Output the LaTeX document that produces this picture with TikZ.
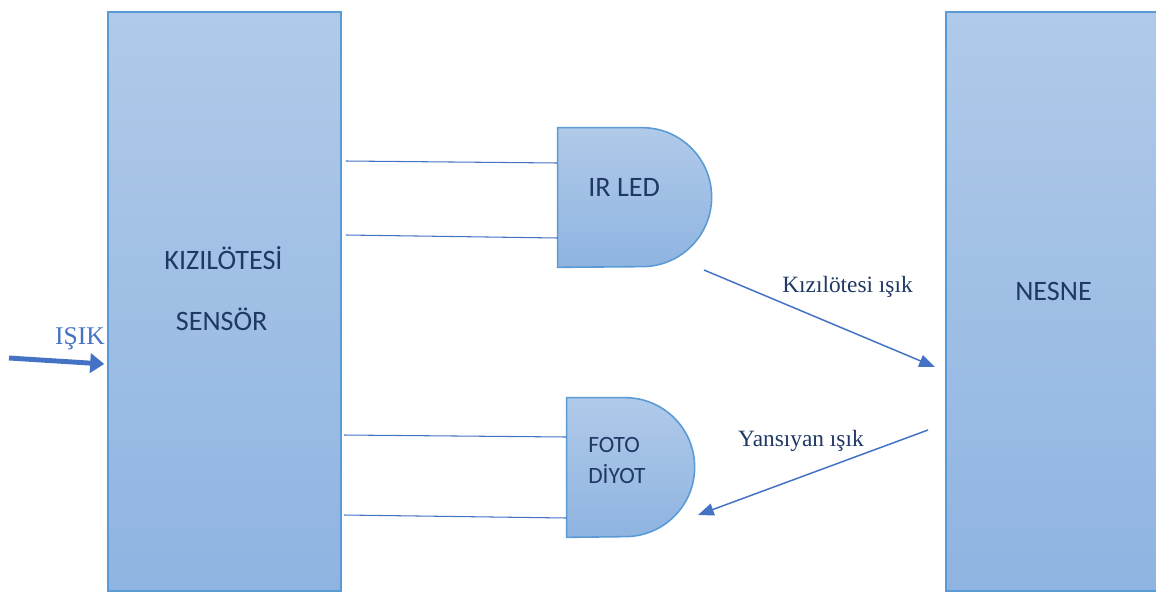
\documentclass[tikz,border=0pt]{standalone}
\usepackage{fontspec}
\setmainfont{Liberation Serif}
\newfontfamily\calibri{Carlito}
\usetikzlibrary{arrows.meta}

\definecolor{boxtop}{HTML}{B0CAE9}
\definecolor{boxbot}{HTML}{8FB4E1}
\definecolor{boxline}{HTML}{5B9BD5}
\definecolor{wireblue}{HTML}{4472C4}
\definecolor{textnavy}{HTML}{1F3864}

\begin{document}
\begin{tikzpicture}[
        % --- styles ---
        x=0.02cm, y=-0.02cm,
        block/.style={rectangle, draw=boxline, line width=0.9pt, top color=boxtop, bottom color=boxbot, inner sep=0pt, minimum height=11.58cm},
        gatebox/.style={rectangle, inner sep=0pt, minimum height=2.78cm},   % invisible frame of a gate
        gateshape/.style={draw=boxline, line width=0.9pt, top color=boxtop, bottom color=boxbot},
        lbl/.style={text=textnavy, font=\calibri\fontsize{16}{19}\selectfont, inner sep=0pt},
        small/.style={text=textnavy, font=\calibri\fontsize{13.3}{16}\selectfont, inner sep=0pt},
        note/.style={text=textnavy, font=\fontsize{13.3}{16}\selectfont, inner sep=0pt},
        wire/.style={draw=wireblue, line width=0.6pt},
        ray/.style={draw=wireblue, line width=0.85pt, -{Triangle[length=9pt, width=7pt]}},
        bigray/.style={draw=wireblue, line width=2.8pt, -{Triangle[length=8pt, width=11pt]}}
        % --------------------
    ]
    \useasboundingbox (0,0) rectangle (1156,592);

    % big blocks
    \node[block, minimum width=4.66cm] (sensor) at (224.5,301.5) {};
    \node[block, minimum width=4.7cm] (nesne) at (1063.5,301.5) {};
    \node[lbl, anchor=base] (kizil) at (223.5,269) {KIZILÖTESİ};
    \node[lbl, anchor=base] (sensortxt) at (221.7,330) {SENSÖR};
    \node[lbl, anchor=base] (nesnetxt) at (1053.5,300) {NESNE};

    % IR LED gate
    \node[gatebox, minimum width=3.08cm] (irled) at (635,197.5) {};
    \path[gateshape] (irled.north west) -- ++(84.5,0)
        arc[start angle=90, end angle=-90, radius=1.39cm] -- (irled.south west) -- cycle;
    \node[lbl, anchor=base west] (irtxt) at (588,196) {IR LED};

    % foto diyot gate
    \node[gatebox, minimum width=2.56cm] (foto) at (631,467.5) {};
    \path[gateshape] (foto.north west) -- ++(58.5,0)
        arc[start angle=90, end angle=-90, radius=1.39cm] -- (foto.south west) -- cycle;
    \node[small, anchor=base west] (fotoA) at (588,452.7) {FOTO};
    \node[small, anchor=base west] (fotoB) at (588,483) {DİYOT};

    % wires
    \draw[wire] (sensor.east |- 0,161) ++(4,0) -- (irled.west |- 0,163);
    \draw[wire] (sensor.east |- 0,235) ++(4,0) -- (irled.west |- 0,238);
    \draw[wire] (sensor.east |- 0,435) ++(2,0) -- (foto.west |- 0,437);
    \draw[wire] (sensor.east |- 0,515) ++(2,0) -- (foto.west |- 0,518);

    % light rays
    \coordinate (irout) at (704,270);
    \coordinate (hit) at (935,367);
    \coordinate (back) at (928,430);
    \coordinate (fotoin) at (698,515);
    \coordinate (outside) at (9,358);
    \draw[ray] (irout) -- (hit);
    \draw[ray] (back) -- (fotoin);
    \draw[bigray] (outside) -- ([xshift=-3*0.02cm]sensor.west |- 0,364);

    \node[note, anchor=base] (irlabel) at (847.5,292.3) {Kızılötesi ışık};
    \node[note, anchor=base] (yanlabel) at (801,446) {Yansıyan ışık};
    \node[note, anchor=base, text=wireblue, font=\fontsize{14.5}{17}\selectfont] (isik) at (80,344) {IŞIK};
\end{tikzpicture}
\end{document}
